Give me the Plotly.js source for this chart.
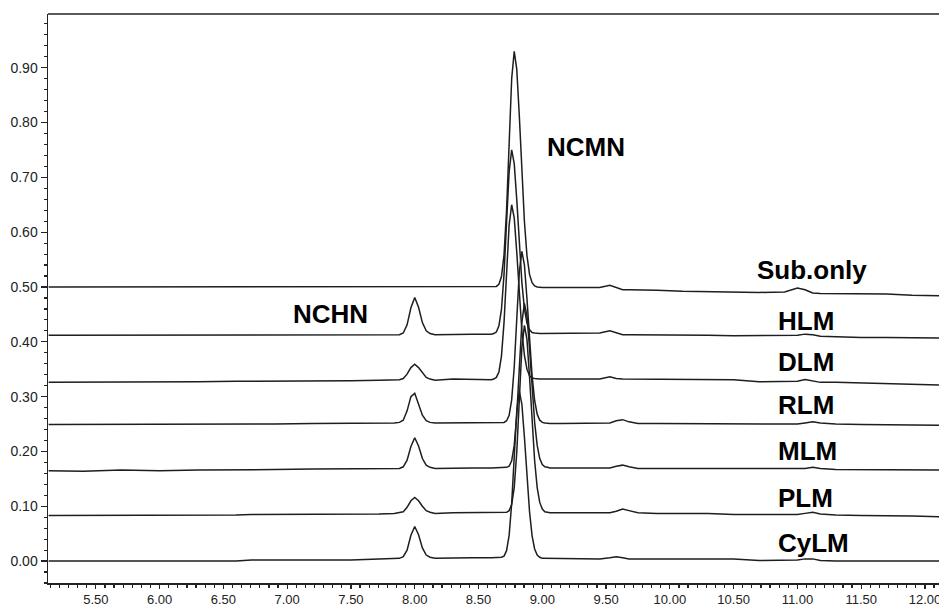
<!DOCTYPE html>
<html>
<head>
<meta charset="utf-8">
<script src="https://cdn.plot.ly/plotly-3.0.1.min.js"></script>
<style>
  html, body { margin: 0; padding: 0; background: #fff; }
  #chart { width: 939px; height: 607px; }
</style>
</head>
<body>
<div id="chart"></div>
<script>
// Retention time (min) sample points
const retention = [
  5.13, 5.40, 5.70, 6.00, 6.30, 6.60, 6.72, 6.90, 7.20, 7.50, 7.72, 7.84,
  7.88, 7.91, 7.94, 7.97, 8.00, 8.03, 8.06, 8.09, 8.12, 8.16,
  8.30, 8.45,
  8.60, 8.62, 8.64, 8.66, 8.68, 8.70, 8.72, 8.74, 8.76, 8.78, 8.80, 8.82,
  8.84, 8.86, 8.88, 8.90, 8.92, 8.94, 8.96, 8.98, 9.00, 9.02, 9.04, 9.06,
  9.15, 9.30, 9.45, 9.53, 9.58, 9.63, 9.68, 9.75, 9.90, 10.10, 10.30, 10.50,
  10.70, 10.90, 11.00, 11.06, 11.12, 11.18, 11.30, 11.50, 11.70, 11.90, 12.11
];

const subOnly = [
  0.500, 0.500, 0.500, 0.500, 0.500, 0.500, 0.500, 0.500, 0.500, 0.500, 0.500, 0.500,
  0.500, 0.500, 0.500, 0.500, 0.500, 0.500, 0.500, 0.500, 0.500, 0.500,
  0.500, 0.500,
  0.500, 0.500, 0.501, 0.505, 0.519, 0.558, 0.640, 0.761, 0.880, 0.930, 0.897, 0.812,
  0.709, 0.619, 0.557, 0.523, 0.508, 0.502, 0.500, 0.499, 0.499, 0.499, 0.499, 0.499,
  0.499, 0.499, 0.499, 0.503, 0.499, 0.495, 0.495, 0.495, 0.494, 0.492, 0.491, 0.490,
  0.490, 0.491, 0.498, 0.495, 0.489, 0.488, 0.488, 0.487, 0.487, 0.485, 0.484
];

const hlm = [
  0.412, 0.412, 0.412, 0.413, 0.413, 0.413, 0.413, 0.413, 0.413, 0.413, 0.413, 0.413,
  0.413, 0.416, 0.431, 0.462, 0.481, 0.463, 0.435, 0.420, 0.415, 0.413,
  0.414, 0.414,
  0.414, 0.415, 0.418, 0.429, 0.459, 0.523, 0.618, 0.710, 0.750, 0.725, 0.659, 0.579,
  0.508, 0.460, 0.434, 0.422, 0.417, 0.416, 0.415, 0.415, 0.415, 0.415, 0.415, 0.415,
  0.415, 0.415, 0.416, 0.420, 0.416, 0.413, 0.413, 0.413, 0.412, 0.412, 0.412, 0.411,
  0.411, 0.411, 0.412, 0.414, 0.413, 0.410, 0.409, 0.408, 0.408, 0.407, 0.407
];

const dlm = [
  0.326, 0.326, 0.327, 0.327, 0.327, 0.328, 0.328, 0.328, 0.329, 0.329, 0.330, 0.330,
  0.331, 0.333, 0.341, 0.353, 0.359, 0.353, 0.343, 0.335, 0.332, 0.330,
  0.332, 0.331,
  0.331, 0.332, 0.335, 0.345, 0.374, 0.435, 0.525, 0.613, 0.650, 0.626, 0.563, 0.487,
  0.420, 0.375, 0.350, 0.338, 0.334, 0.333, 0.332, 0.332, 0.332, 0.332, 0.332, 0.332,
  0.332, 0.332, 0.332, 0.336, 0.333, 0.332, 0.332, 0.332, 0.332, 0.332, 0.332, 0.331,
  0.327, 0.327, 0.328, 0.331, 0.329, 0.326, 0.326, 0.325, 0.324, 0.322, 0.321
];

const rlm = [
  0.249, 0.249, 0.249, 0.249, 0.250, 0.250, 0.250, 0.250, 0.251, 0.251, 0.251, 0.252,
  0.253, 0.257, 0.274, 0.300, 0.306, 0.286, 0.266, 0.256, 0.253, 0.252,
  0.252, 0.252,
  0.252, 0.252, 0.252, 0.252, 0.252, 0.253, 0.256, 0.266, 0.294, 0.354, 0.442, 0.528,
  0.565, 0.540, 0.478, 0.403, 0.338, 0.293, 0.268, 0.257, 0.253, 0.252, 0.251, 0.251,
  0.251, 0.251, 0.251, 0.252, 0.256, 0.258, 0.254, 0.251, 0.251, 0.251, 0.251, 0.250,
  0.250, 0.250, 0.250, 0.252, 0.254, 0.252, 0.250, 0.249, 0.249, 0.248, 0.248
];

const mlm = [
  0.165, 0.164, 0.166, 0.165, 0.166, 0.166, 0.167, 0.167, 0.168, 0.168, 0.169, 0.169,
  0.169, 0.172, 0.184, 0.209, 0.225, 0.210, 0.187, 0.175, 0.171, 0.169,
  0.170, 0.170,
  0.170, 0.170, 0.170, 0.170, 0.170, 0.170, 0.171, 0.173, 0.183, 0.211, 0.267, 0.352,
  0.435, 0.470, 0.447, 0.388, 0.316, 0.253, 0.211, 0.187, 0.176, 0.172, 0.171, 0.170,
  0.170, 0.170, 0.170, 0.170, 0.173, 0.175, 0.172, 0.169, 0.169, 0.169, 0.169, 0.168,
  0.168, 0.168, 0.168, 0.169, 0.171, 0.169, 0.167, 0.167, 0.167, 0.166, 0.166
];

const plm = [
  0.083, 0.083, 0.083, 0.084, 0.084, 0.084, 0.085, 0.085, 0.086, 0.086, 0.086, 0.087,
  0.088, 0.090, 0.098, 0.110, 0.116, 0.110, 0.100, 0.092, 0.089, 0.087,
  0.088, 0.088,
  0.088, 0.088, 0.088, 0.088, 0.088, 0.088, 0.089, 0.092, 0.103, 0.134, 0.199, 0.295,
  0.390, 0.430, 0.404, 0.336, 0.255, 0.183, 0.134, 0.107, 0.095, 0.090, 0.089, 0.088,
  0.088, 0.088, 0.088, 0.088, 0.091, 0.095, 0.092, 0.088, 0.087, 0.087, 0.087, 0.085,
  0.085, 0.085, 0.085, 0.087, 0.089, 0.086, 0.084, 0.083, 0.083, 0.082, 0.081
];

const cylm = [
  0.000, 0.000, 0.000, 0.000, 0.000, 0.000, 0.002, 0.002, 0.002, 0.002, 0.004, 0.004,
  0.005, 0.008, 0.020, 0.047, 0.063, 0.048, 0.024, 0.011, 0.007, 0.005,
  0.006, 0.006,
  0.006, 0.006, 0.006, 0.006, 0.007, 0.009, 0.019, 0.047, 0.105, 0.190, 0.274, 0.310,
  0.286, 0.226, 0.153, 0.090, 0.046, 0.022, 0.011, 0.007, 0.005, 0.005, 0.005, 0.005,
  0.004, 0.004, 0.004, 0.006, 0.008, 0.006, 0.004, 0.004, 0.004, 0.005, 0.005, 0.004,
  0.001, 0.001, 0.002, 0.004, 0.004, 0.001, 0.000, 0.000, 0.000, 0.000, 0.000
];

const seriesNames = ["Sub.only", "HLM", "DLM", "RLM", "MLM", "PLM", "CyLM"];
const seriesValues = [subOnly, hlm, dlm, rlm, mlm, plm, cylm];

// Text labels and their left-edge anchor positions (data units)
const labelTexts = ["NCMN", "NCHN", "Sub.only", "HLM", "DLM", "RLM", "MLM", "PLM", "CyLM"];
const labelX = [9.02, 7.03, 10.67, 10.83, 10.83, 10.83, 10.83, 10.83, 10.83];
const labelY = [0.755, 0.450, 0.531, 0.438, 0.363, 0.285, 0.201, 0.115, 0.033];

const traces = seriesValues.map((vals, i) => ({
  type: "scatter",
  mode: "lines",
  name: seriesNames[i],
  x: retention,
  y: vals,
  line: { color: "#1e1e1e", width: 1.5 },
  hoverinfo: "skip"
}));

const annotations = labelTexts.map((t, i) => ({
  x: labelX[i], y: labelY[i], xref: "x", yref: "y",
  text: "<b>" + t + "</b>", showarrow: false,
  font: { family: "Liberation Sans, Arial, sans-serif", size: 26, color: "#000" },
  xanchor: "left", yanchor: "middle"
}));

const layout = {
  width: 939, height: 607,
  margin: { l: 48, r: 0, t: 14, b: 24, pad: 0 },
  paper_bgcolor: "#fff", plot_bgcolor: "#fff",
  showlegend: false,
  font: { family: "Liberation Sans, Arial, sans-serif", size: 14, color: "#222" },
  xaxis: {
    range: [5.125, 12.11], autorange: false,
    tick0: 5.5, dtick: 0.5, tickformat: ".2f",
    ticks: "outside", ticklen: 4, tickwidth: 1.3, tickcolor: "#222",
    minor: { tick0: 5.5, dtick: 0.5 / 7, ticks: "outside", ticklen: 3, tickwidth: 1.2, tickcolor: "#222", showgrid: false },
    showline: true, linecolor: "#222", linewidth: 1.5,
    showgrid: false, zeroline: false, automargin: false,
    ticklabeloverflow: "allow",
    tickfont: { size: 13, color: "#222" }
  },
  yaxis: {
    range: [-0.04, 0.998], autorange: false,
    tick0: 0, dtick: 0.1, tickformat: ".2f",
    ticks: "outside", ticklen: 6, tickwidth: 1.3, tickcolor: "#222",
    minor: { tick0: 0, dtick: 0.02, ticks: "outside", ticklen: 3, tickwidth: 1.2, tickcolor: "#222", showgrid: false },
    showline: true, linecolor: "#222", linewidth: 1.5,
    showgrid: false, zeroline: false, automargin: false,
    tickfont: { size: 14, color: "#222" }
  },
  shapes: [{
    type: "line", xref: "paper", yref: "paper", x0: 0, x1: 1, y0: 1, y1: 1,
    line: { color: "#222", width: 1.5 }
  }],
  annotations: annotations
};

Plotly.newPlot("chart", traces, layout, { staticPlot: true, displayModeBar: false });
</script>
</body>
</html>
